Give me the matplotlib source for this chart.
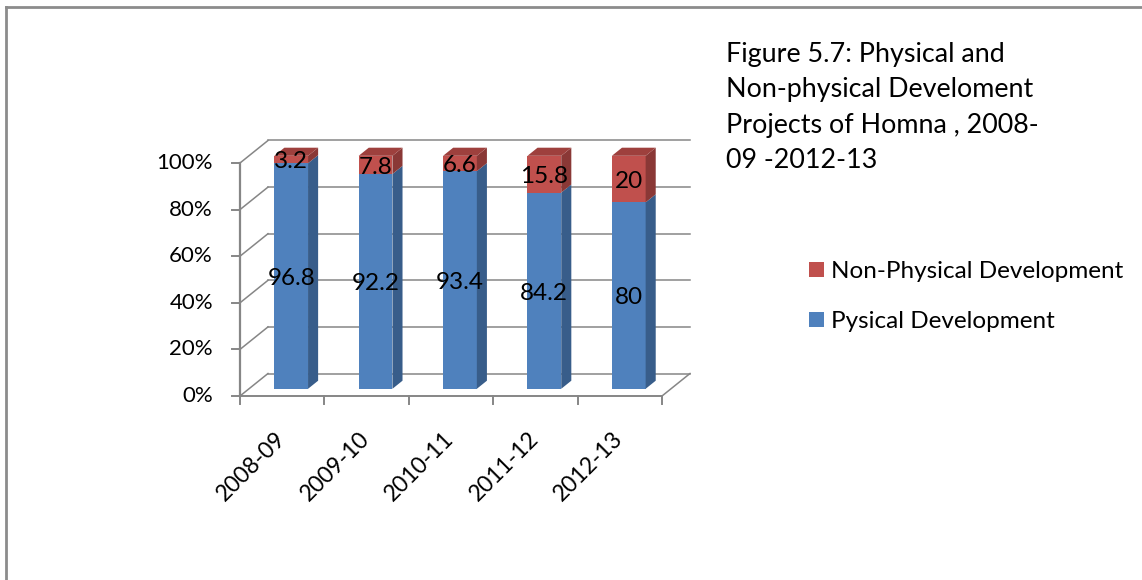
import matplotlib
matplotlib.use("Agg")
import matplotlib.pyplot as plt
from matplotlib.patches import Polygon, Patch
from matplotlib.lines import Line2D

# ─── DATA ─────────────────────────────────────────────────────────────────────
years        = ["2008-09", "2009-10", "2010-11", "2011-12", "2012-13"]
physical     = [96.8, 92.2, 93.4, 84.2, 80]
non_physical = [3.2, 7.8, 6.6, 15.8, 20]
y_ticks      = [0, 20, 40, 60, 80, 100]
title_lines  = ["Figure 5.7: Physical and", "Non-physical Develoment",
                "Projects of Homna , 2008-", "09 -2012-13"]

# ─── STYLE ────────────────────────────────────────────────────────────────────
BLUE, BLUE_SIDE = "#4F81BD", "#385D8A"
RED, RED_SIDE, RED_TOP = "#C0504D", "#8A3836", "#9E403D"
GRID = "#868686"
plt.rcParams["font.family"] = ["Lato", "DejaVu Sans"]

W, H = 1142, 580
fig = plt.figure(figsize=(W / 100, H / 100), dpi=100)
ax = fig.add_axes([0, 0, 1, 1])

# pixel mapping of the front plane: x=-0.5 -> 240px, 84.4px per category
PX_CAT, PX_PCT = 84.4, 2.33
X0, Y0 = 240, 396
ax.set_xlim(-0.5 - X0 / PX_CAT, -0.5 + (W - X0) / PX_CAT)
ax.set_ylim((Y0 - H) / PX_PCT, Y0 / PX_PCT)
ax.axis("off")

DX, DY = 28 / PX_CAT, 22.5 / PX_PCT      # full depth of the 3D box
n = len(years)
left, right = -0.5, n - 0.5

# walls: back gridlines + side wall diagonals
for v in y_ticks:
    ax.plot([left + DX, right + DX], [v + DY, v + DY], color=GRID, lw=1.1, zorder=1)
    ax.plot([left, left + DX], [v, v + DY], color=GRID, lw=1.1, zorder=1)
    ax.plot([left, left - 0.095], [v, v], color=GRID, lw=1.4, zorder=1)
    ax.text(left - 0.32, v, f"{v}%", ha="right", va="center", fontsize=16)
# floor edges and axes
ax.plot([left, right], [0, 0], color=GRID, lw=1.4, zorder=1)
ax.plot([right, right + DX], [0, DY], color=GRID, lw=1.1, zorder=1)
ax.plot([left, left], [0, 100], color=GRID, lw=1.6, zorder=1)
for i in range(n + 1):
    ax.plot([left + i, left + i], [0, -3.4], color=GRID, lw=1.4, zorder=1)

# bars (front faces via ax.bar, side/top faces as polygons)
F0, F1 = 0.32, 0.68
ox, oy = F0 * DX, F0 * DY
ddx, ddy = (F1 - F0) * DX, (F1 - F0) * DY
bw = 0.40
xs = [i + ox for i in range(n)]

ax.bar(xs, physical, width=bw, bottom=oy, color=BLUE, zorder=3)
ax.bar(xs, non_physical, width=bw, bottom=[p + oy for p in physical],
       color=RED, zorder=3)

for x, p, q in zip(xs, physical, non_physical):
    xr, xl = x + bw / 2, x - bw / 2
    for b, h, c in [(0, p, BLUE_SIDE), (p, q, RED_SIDE)]:
        ax.add_patch(Polygon([(xr, b + oy), (xr + ddx, b + oy + ddy),
                              (xr + ddx, b + h + oy + ddy), (xr, b + h + oy)],
                             closed=True, facecolor=c, edgecolor="none", zorder=3))
    top = p + q + oy
    ax.add_patch(Polygon([(xl, top), (xr, top), (xr + ddx, top + ddy),
                          (xl + ddx, top + ddy)],
                         closed=True, facecolor=RED_TOP, edgecolor="none", zorder=3))
    ax.text(x, p / 2 + oy - 1, f"{p:g}", ha="center", va="center", fontsize=17.5, zorder=4)
    ax.text(x, p + q / 2 + oy - 1, f"{q:g}", ha="center", va="center", fontsize=17.5, zorder=4)

for i, lab in enumerate(years):
    ax.text(i + 0.083, -13.7, lab, rotation=45, ha="right", va="top", fontsize=16.5)

# title block
for k, line in enumerate(title_lines):
    fig.text(726 / W, 1 - (61.7 + 35.4 * k) / H, line, ha="left", va="baseline",
             fontsize=19.4)

# legend
handles = [Patch(facecolor=RED, label="Non-Physical Development"),
           Patch(facecolor=BLUE, label="Pysical Development")]
fig.legend(handles=handles, loc="upper left", bbox_to_anchor=(809 / W, 1 - 261 / H),
           frameon=False, fontsize=17.5, handlelength=0.62, handleheight=0.62,
           handletextpad=0.3, labelspacing=1.2, borderpad=0, borderaxespad=0)

# outer chart border (top and left visible)
fig.add_artist(Line2D([6 / W, 1], [1 - 7 / H, 1 - 7 / H], color="#8C8C8C", lw=2))
fig.add_artist(Line2D([6 / W, 6 / W], [0, 1 - 7 / H], color="#8C8C8C", lw=2))

fig.savefig("out.png", dpi=100)
